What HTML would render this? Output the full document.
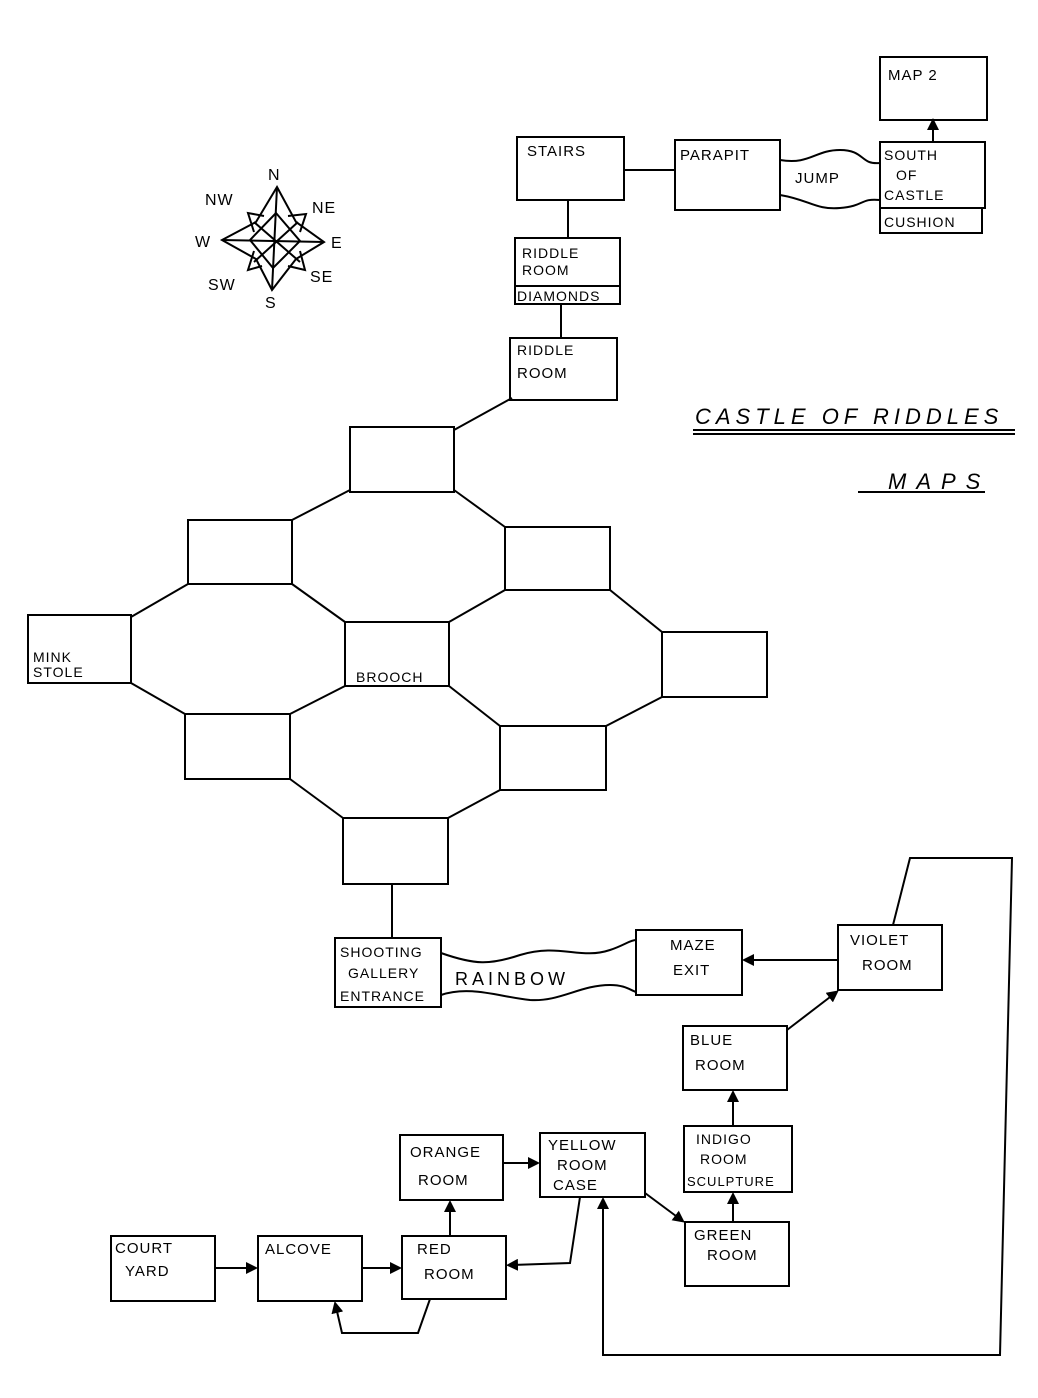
<!DOCTYPE html>
<html><head><meta charset="utf-8"><style>
html,body{margin:0;padding:0;background:#fff;}
svg{display:block}
text{font-family:"Liberation Sans",sans-serif;fill:#000;letter-spacing:1px}
</style></head><body>
<svg width="1038" height="1398" viewBox="0 0 1038 1398" xmlns="http://www.w3.org/2000/svg">
<defs><marker id="a" markerWidth="12" markerHeight="12" refX="6" refY="6" orient="auto" markerUnits="userSpaceOnUse"><path d="M0,0 L12,6 L0,12 z" fill="#000"/></marker></defs>
<g fill="none" stroke="#000" stroke-width="2">
<rect x="880" y="57" width="107" height="63"/>
<rect x="517" y="137" width="107" height="63"/>
<rect x="675" y="140" width="105" height="70"/>
<rect x="880" y="142" width="105" height="66"/>
<rect x="880" y="208" width="102" height="25"/>
<rect x="515" y="238" width="105" height="66"/>
<line x1="515" y1="286" x2="620" y2="286"/>
<rect x="510" y="338" width="107" height="62"/>
<rect x="350" y="427" width="104" height="65"/>
<rect x="188" y="520" width="104" height="64"/>
<rect x="505" y="527" width="105" height="63"/>
<rect x="28" y="615" width="103" height="68"/>
<rect x="345" y="622" width="104" height="64"/>
<rect x="662" y="632" width="105" height="65"/>
<rect x="185" y="714" width="105" height="65"/>
<rect x="500" y="726" width="106" height="64"/>
<rect x="343" y="818" width="105" height="66"/>
<rect x="335" y="938" width="106" height="69"/>
<rect x="636" y="930" width="106" height="65"/>
<rect x="838" y="925" width="104" height="65"/>
<rect x="683" y="1026" width="104" height="64"/>
<rect x="400" y="1135" width="103" height="65"/>
<rect x="540" y="1133" width="105" height="64"/>
<rect x="684" y="1126" width="108" height="66"/>
<rect x="685" y="1222" width="104" height="64"/>
<rect x="111" y="1236" width="104" height="65"/>
<rect x="258" y="1236" width="104" height="65"/>
<rect x="402" y="1236" width="104" height="63"/>
<line x1="350" y1="490" x2="292" y2="520"/>
<line x1="454" y1="490" x2="505" y2="527"/>
<line x1="188" y1="584" x2="131" y2="617"/>
<line x1="292" y1="584" x2="345" y2="622"/>
<line x1="505" y1="590" x2="449" y2="622"/>
<line x1="610" y1="590" x2="662" y2="632"/>
<line x1="131" y1="683" x2="185" y2="714"/>
<line x1="345" y1="686" x2="290" y2="714"/>
<line x1="449" y1="686" x2="500" y2="726"/>
<line x1="662" y1="697" x2="606" y2="726"/>
<line x1="290" y1="779" x2="343" y2="818"/>
<line x1="500" y1="790" x2="448" y2="818"/>
<line x1="512" y1="398" x2="454" y2="430"/>
<line x1="561" y1="304" x2="561" y2="338"/>
<line x1="568" y1="200" x2="568" y2="238"/>
<line x1="624" y1="170" x2="675" y2="170"/>
<path d="M780,160 C810,165 815,150 840,150 C865,150 860,165 880,163"/>
<path d="M780,195 C810,200 815,210 840,208 C865,206 860,198 880,200"/>
<line x1="933" y1="142" x2="933" y2="124" marker-end="url(#a)"/>
<line x1="392" y1="884" x2="392" y2="938"/>
<path d="M441,953 C475,965 490,965 520,955 C560,943 580,960 610,950 C625,945 630,940 636,940"/>
<path d="M441,995 C470,985 500,997 530,1000 C560,1002 580,985 610,985 C625,985 630,990 636,992"/>
<line x1="838" y1="960" x2="748" y2="960" marker-end="url(#a)"/>
<polyline points="893,925 910,858 1012,858 1000,1355 603,1355 603,1203" marker-end="url(#a)"/>
<line x1="787" y1="1030" x2="834" y2="994" marker-end="url(#a)"/>
<line x1="733" y1="1126" x2="733" y2="1096" marker-end="url(#a)"/>
<line x1="733" y1="1222" x2="733" y2="1198" marker-end="url(#a)"/>
<line x1="645" y1="1193" x2="680" y2="1219" marker-end="url(#a)"/>
<line x1="503" y1="1163" x2="534" y2="1163" marker-end="url(#a)"/>
<line x1="450" y1="1236" x2="450" y2="1206" marker-end="url(#a)"/>
<polyline points="580,1197 570,1263 512,1265" marker-end="url(#a)"/>
<line x1="215" y1="1268" x2="252" y2="1268" marker-end="url(#a)"/>
<line x1="362" y1="1268" x2="396" y2="1268" marker-end="url(#a)"/>
<polyline points="430,1299 418,1333 342,1333 336,1307" marker-end="url(#a)"/>
<polygon points="277,187 296,222 324,242 296,259 272,290 256,259 222,240 256,222"/>
<polygon points="276,213 300,241 273,268 250,240"/>
<line x1="277" y1="187" x2="272" y2="290"/>
<line x1="222" y1="240" x2="324" y2="242"/>
<polyline points="288,216 306,214 300,232"/>
<polyline points="264,216 248,213 254,232"/>
<polyline points="300,251 305,270 288,266"/>
<polyline points="254,251 248,270 262,266"/>
<line x1="254" y1="222" x2="300" y2="262"/>
<line x1="298" y1="222" x2="254" y2="262"/>
<line x1="693" y1="430" x2="1015" y2="430"/>
<line x1="693" y1="434" x2="1015" y2="434"/>
<line x1="858" y1="492" x2="985" y2="492"/>
</g>
<g font-size="15">
<text x="888" y="80">MAP 2</text>
<text x="527" y="156">STAIRS</text>
<text x="680" y="160">PARAPIT</text>
<text x="795" y="183">JUMP</text>
<text x="884" y="160" font-size="14">SOUTH</text>
<text x="896" y="180" font-size="14">OF</text>
<text x="884" y="200" font-size="14">CASTLE</text>
<text x="884" y="227" font-size="14">CUSHION</text>
<text x="522" y="258" font-size="14">RIDDLE</text>
<text x="522" y="275" font-size="14">ROOM</text>
<text x="517" y="301" font-size="14">DIAMONDS</text>
<text x="517" y="355" font-size="14">RIDDLE</text>
<text x="517" y="378" font-size="15">ROOM</text>
<text x="695" y="424" font-size="22" font-style="italic" style="letter-spacing:5px">CASTLE OF RIDDLES</text>
<text x="888" y="489" font-size="22" font-style="italic" style="letter-spacing:10px">MAPS</text>
<text x="33" y="662" font-size="14">MINK</text>
<text x="33" y="677" font-size="14">STOLE</text>
<text x="356" y="682" font-size="14">BROOCH</text>
<text x="340" y="957" font-size="14">SHOOTING</text>
<text x="348" y="978" font-size="14">GALLERY</text>
<text x="340" y="1001" font-size="14">ENTRANCE</text>
<text x="455" y="985" font-size="18" style="letter-spacing:4px">RAINBOW</text>
<text x="670" y="950">MAZE</text>
<text x="673" y="975">EXIT</text>
<text x="850" y="945">VIOLET</text>
<text x="862" y="970">ROOM</text>
<text x="690" y="1045">BLUE</text>
<text x="695" y="1070">ROOM</text>
<text x="410" y="1157">ORANGE</text>
<text x="418" y="1185">ROOM</text>
<text x="548" y="1150">YELLOW</text>
<text x="557" y="1170">ROOM</text>
<text x="553" y="1190">CASE</text>
<text x="696" y="1144" font-size="14">INDIGO</text>
<text x="700" y="1164" font-size="14">ROOM</text>
<text x="687" y="1186" font-size="13">SCULPTURE</text>
<text x="694" y="1240">GREEN</text>
<text x="707" y="1260">ROOM</text>
<text x="115" y="1253">COURT</text>
<text x="125" y="1276">YARD</text>
<text x="265" y="1254">ALCOVE</text>
<text x="417" y="1254">RED</text>
<text x="424" y="1279">ROOM</text>
<text x="268" y="180" font-size="16">N</text>
<text x="205" y="205" font-size="16">NW</text>
<text x="312" y="213" font-size="16">NE</text>
<text x="195" y="247" font-size="16">W</text>
<text x="331" y="248" font-size="16">E</text>
<text x="208" y="290" font-size="16">SW</text>
<text x="310" y="282" font-size="16">SE</text>
<text x="265" y="308" font-size="16">S</text>
</g>
</svg>
</body></html>
